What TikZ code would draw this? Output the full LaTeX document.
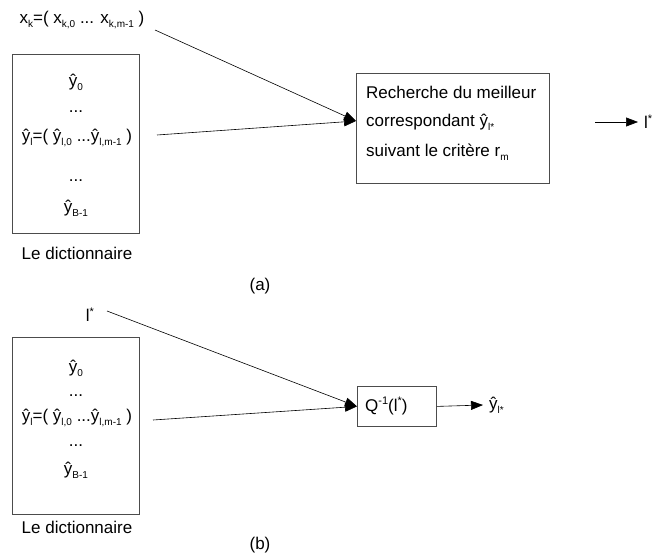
\documentclass[tikz,border=0pt]{standalone}
\usepackage{fontspec}
\setmainfont{Liberation Sans}
\usetikzlibrary{arrows.meta}
\newcommand\sbs[1]{\raisebox{-0.45ex}{\fontsize{10}{10}\selectfont #1}}
\newcommand\sps[1]{\raisebox{0.7ex}{\fontsize{11}{11}\selectfont #1}}
\tikzset{
  box/.style={draw=black!70, line width=0.8pt, inner sep=0},
  txt/.style={font=\fontsize{17}{20}\selectfont, inner sep=0},
  arr/.style={-{Triangle[length=12pt,width=9pt]}, line width=0.6pt},
}
\begin{document}
\begin{tikzpicture}[x=1pt,y=-1pt]
\useasboundingbox (0,0) rectangle (656,554);
% ---------- (a)
\node[txt] (xk) at (82,20) {x\sbs{k}=( x\sbs{k,0} ... x\sbs{k,m-1} )};
\node[box, minimum width=127, minimum height=179, anchor=north west] (dictA) at (12,54) {};
\node[txt] (a0) at (76,82) {ŷ\sbs{0}};
\node[txt] (a1) at (76,112) {...};
\node[txt] (al) at (77,138) {ŷ\sbs{l}=( ŷ\sbs{l,0} ...ŷ\sbs{l,m-1} )};
\node[txt] (a2) at (76,181) {...};
\node[txt] (aB) at (76,208) {ŷ\sbs{B-1}};
\node[txt] (dnA) at (77,253) {Le dictionnaire};
\node[box, minimum width=193, minimum height=110, anchor=north west] (search) at (356,73) {};
\node[txt, anchor=west] (s1) at (366,92) {Recherche du meilleur};
\node[txt, anchor=west] (s2) at (366,122) {correspondant ŷ\sbs{l*}};
\node[txt, anchor=west] (s3) at (366,152) {suivant le critère r\sbs{m}};
\node[txt, anchor=west, inner xsep=6pt] (lsA) at (638,122) {l\sps{*}};
\node[txt] (capA) at (260,286) {(a)};
\coordinate (xkout) at (155,30);
\coordinate (alout) at (157,135);
\coordinate (sin) at (356,121);
\coordinate (soutA) at (595,122);
\draw[arr] (xkout) -- (sin);
\draw[arr] (alout) -- (sin);
\draw[arr] (soutA) -- (lsA.west);
% ---------- (b)
\node[txt] (lsB) at (90,315) {l\sps{*}};
\node[box, minimum width=127, minimum height=177, anchor=north west] (dictB) at (12,337) {};
\node[txt] (b0) at (76,368) {ŷ\sbs{0}};
\node[txt] (b1) at (76,396) {...};
\node[txt] (bl) at (77,418) {ŷ\sbs{l}=( ŷ\sbs{l,0} ...ŷ\sbs{l,m-1} )};
\node[txt] (b2) at (76,446) {...};
\node[txt] (bB) at (76,470) {ŷ\sbs{B-1}};
\node[txt] (dnB) at (77,527) {Le dictionnaire};
\node[box, minimum width=79, minimum height=40, anchor=north west] (Q) at (357,386) {};
\node[txt, anchor=west] (Qt) at (365,406) {Q\sps{-1}(l\sps{*})};
\node[txt, anchor=west, inner xsep=6pt] (yout) at (483,405) {ŷ\sbs{l*}};
\node[txt] (capB) at (260,545) {(b)};
\coordinate (lsBout) at (107,311);
\coordinate (blout) at (153,420);
\draw[arr] (lsBout) -- (Q.west);
\draw[arr] (blout) -- (Q.west);
\draw[arr] (Q.east) -- (yout.west);
\end{tikzpicture}
\end{document}
